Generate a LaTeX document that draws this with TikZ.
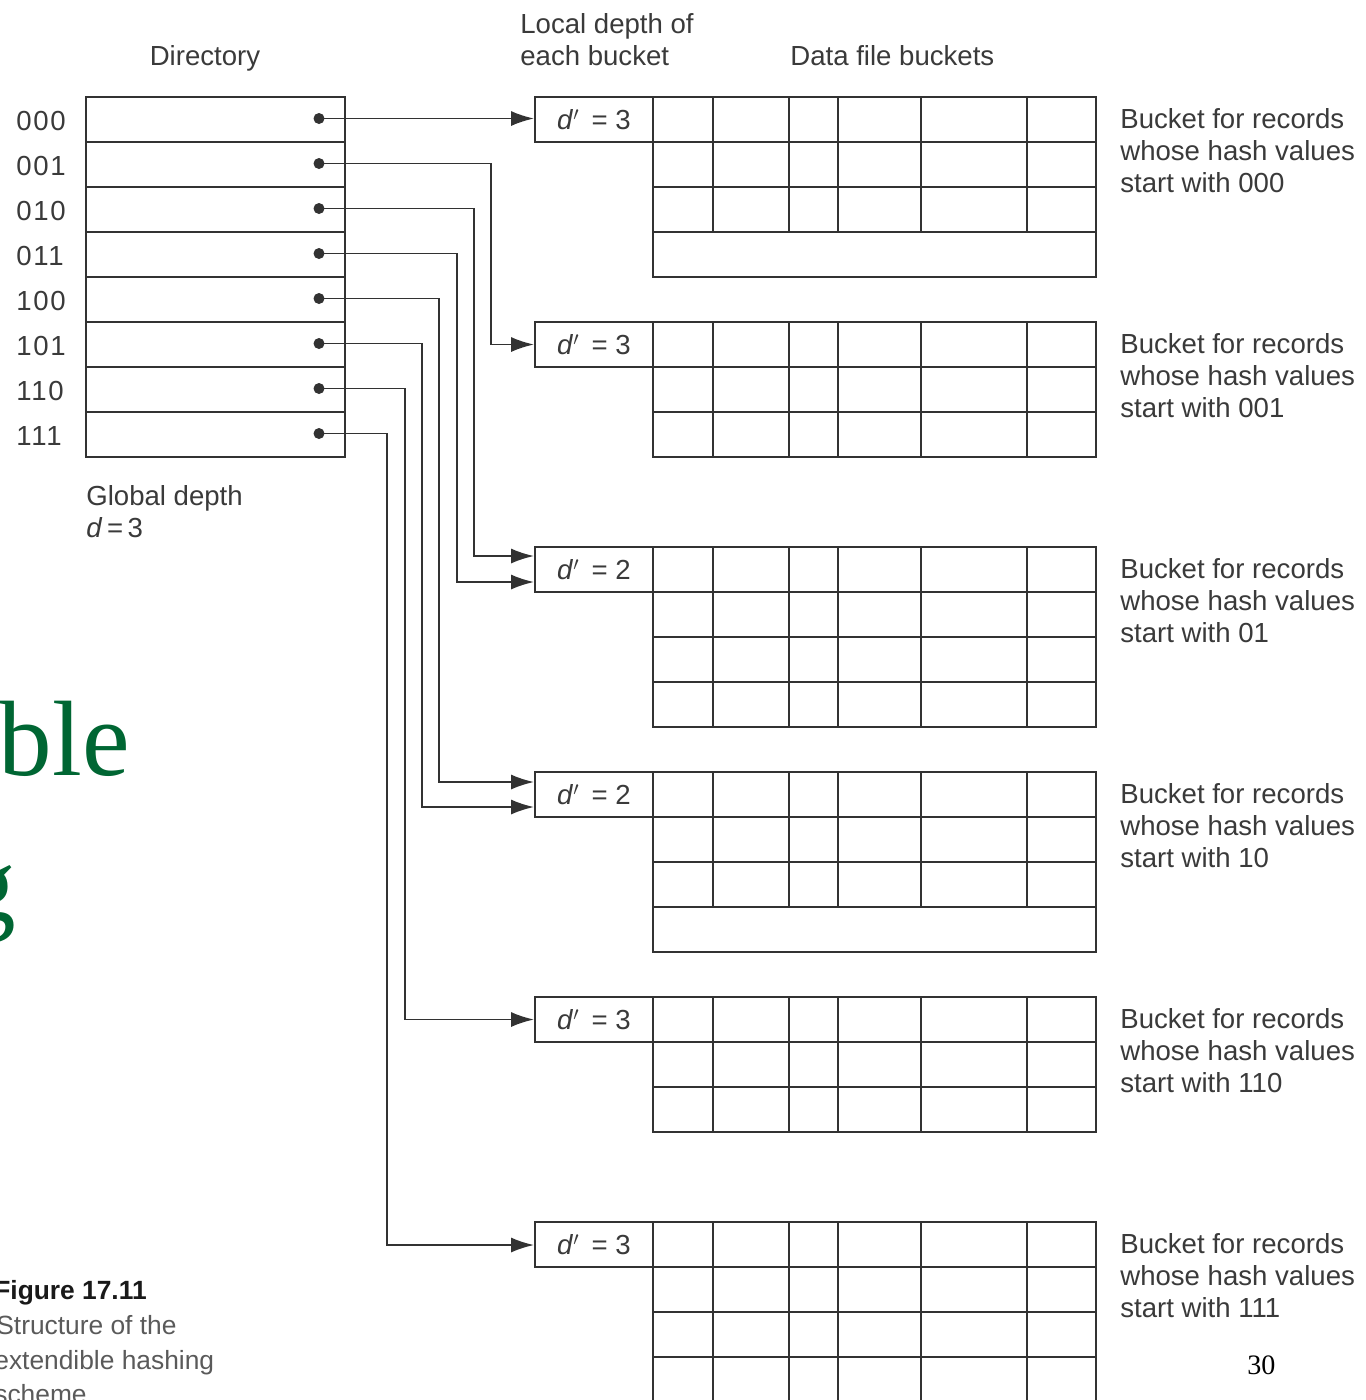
\documentclass[tikz,border=0pt]{standalone}
\usepackage{fontspec}
\setmainfont{Liberation Sans}
\newfontfamily\seriffont{Liberation Serif}
\usetikzlibrary{arrows.meta}
\definecolor{ink}{RGB}{50,50,50}
\definecolor{txt}{RGB}{58,58,58}
\definecolor{captxt}{RGB}{90,90,90}
\definecolor{titlegreen}{RGB}{0,102,51}
\tikzset{
  lbl/.style={font=\fontsize{15.7}{18}\selectfont, text=txt, inner sep=0pt},
  caplbl/.style={font=\fontsize{15}{18}\selectfont, text=captxt, inner sep=0pt, anchor=base west},
  dirrow/.style={draw=ink, line width=1.1pt, minimum width=5.18cm, minimum height=0.9cm, inner sep=0pt},
  dbox/.style={draw=ink, line width=1.1pt, minimum width=2.36cm, minimum height=0.9cm, inner sep=0pt,
               font=\fontsize{15.7}{18}\selectfont, text=txt},
  ptr/.style={circle, fill=ink, inner sep=0pt, minimum size=0.22cm},
  conn/.style={draw=ink, line width=1.1pt, -{Latex[length=13pt,width=8.5pt]}},
  gridline/.style={draw=ink, line width=1.1pt},
}
\newcommand{\bkt}[6]{%
  \node[dbox] (#1) at (594,#2+22.5) {\textit{d}$'$\, = #5};
  \draw[gridline] (653,#2) rectangle (1096,#2+45*#4);
  \foreach \r in {1,...,#4} {\draw[gridline] (653,#2+45*\r) -- (1096,#2+45*\r);}
  \foreach \c in {713,789,838,921,1027} {\draw[gridline] (\c,#2) -- (\c,#2+45*#3);}
  \node[lbl, anchor=base west] (#1a) at (1120,#2+31) {Bucket for records};
  \node[lbl, anchor=base west] (#1b) at (1120,#2+63) {whose hash values};
  \node[lbl, anchor=base west] (#1c) at (1120,#2+95) {start with #6};
}
\begin{document}
\begin{tikzpicture}[x=0.02cm,y=-0.02cm]
\useasboundingbox (0,0) rectangle (1366,1400);
\clip (0,0) rectangle (1366,1400);
\fill[white] (0,0) rectangle (1366,1400);

% headings
\node[lbl, anchor=base] (tdir) at (205,65) {Directory};
\node[lbl, anchor=base west] (tloc1) at (520,33) {Local depth of};
\node[lbl, anchor=base west] (tloc2) at (520,65) {each bucket};
\node[lbl, anchor=base west] (tdata) at (790,65) {Data file buckets};

% directory
\foreach \i/\lab in {0/000,1/001,2/010,3/011,4/100,5/101,6/110,7/111} {
  \node[dirrow] (r\i) at (215.5,119.5+45*\i) {};
  \node[lbl, anchor=base west] (n\i) at (16,130+45*\i) {\addfontfeature{LetterSpace=6}\lab};
}
\node[lbl, anchor=base west] (tglob) at (86,505) {Global depth};
\node[lbl, anchor=base west] (tgd) at (86,537) {\textit{d}\,=\,3};

% buckets
\bkt{b1}{97}{3}{4}{3}{000}
\bkt{b2}{322}{3}{3}{3}{001}
\bkt{b3}{547}{4}{4}{2}{01}
\bkt{b4}{772}{3}{4}{2}{10}
\bkt{b5}{997}{3}{3}{3}{110}
\bkt{b6}{1222}{4}{4}{3}{111}

% pointers
\foreach \i in {0,...,7} {\node[ptr] (p\i) at (319,118.5+45*\i) {};}
\coordinate (k1) at (491,344.5);
\coordinate (k2) at (474,556);
\coordinate (k3) at (457,582);
\coordinate (k4) at (439,782);
\coordinate (k5) at (422,807);
\coordinate (k6) at (405,1019.5);
\coordinate (k7) at (387,1245);
\coordinate (k0) at (345,118.5);
\draw[conn] (p0.center) -- (k0) -- (k0 -| b1.west);
\draw[conn] (p1.center) -| (k1) -- (k1 -| b2.west);
\draw[conn] (p2.center) -| (k2) -- (k2 -| b3.west);
\draw[conn] (p3.center) -| (k3) -- (k3 -| b3.west);
\draw[conn] (p4.center) -| (k4) -- (k4 -| b4.west);
\draw[conn] (p5.center) -| (k5) -- (k5 -| b4.west);
\draw[conn] (p6.center) -| (k6) -- (k6 -| b5.west);
\draw[conn] (p7.center) -| (k7) -- (k7 -| b6.west);

% clipped slide title
\node[anchor=base east, inner sep=0pt, text=titlegreen, font=\seriffont\fontsize{61}{61}\selectfont] (tble) at (130,775) {ble};
\node[anchor=base east, inner sep=0pt, text=titlegreen, font=\seriffont\fontsize{61}{61}\selectfont] (tg) at (16,920) {g};

% caption
\node[caplbl, font=\bfseries\fontsize{15}{18}\selectfont, text=black!90] (fig) at (-6,1299) {Figure 17.11};
\node[caplbl] (cap1) at (-4,1334) {Structure of the};
\node[caplbl] (cap2) at (-6,1369) {extendible hashing};
\node[caplbl] (cap3) at (-6,1403) {scheme};

% page number
\node[anchor=base west, inner sep=0pt, font=\seriffont\fontsize{16}{16}\selectfont, text=black] (pg) at (1247,1374) {30};
\end{tikzpicture}
\end{document}
